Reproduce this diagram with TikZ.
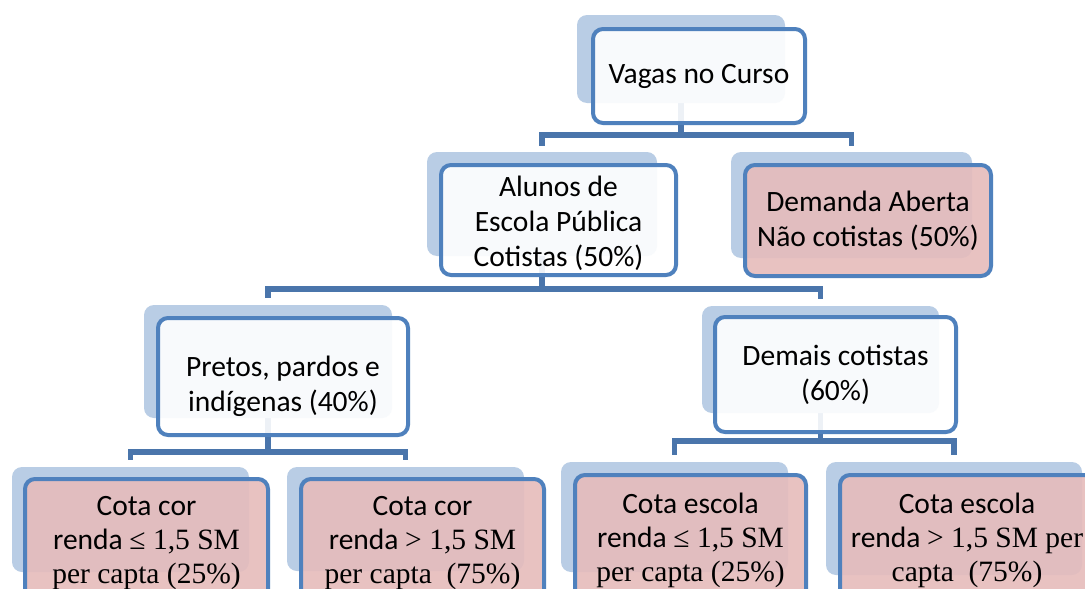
\documentclass[tikz,border=0pt]{standalone}
\usepackage{fontspec}
\setmainfont{Carlito}
\newfontfamily\tnr{Liberation Serif}
\usetikzlibrary{backgrounds}
\definecolor{shblue}{HTML}{B9CDE5}
\definecolor{bdblue}{HTML}{4F81BD}
\definecolor{cnblue}{HTML}{4A75AB}
\definecolor{pinkfill}{HTML}{E6BCBB}
\newcommand\tms[1]{{\tnr\fontsize{29.5}{34}\selectfont #1}}
\begin{document}
\begin{tikzpicture}[x=1pt,y=-1pt,
  shadowbox/.style={fill=shblue, rounded corners=10pt, inner sep=0pt},
  mainbox/.style={draw=bdblue, line width=4pt, rounded corners=10pt,
    fill opacity=0.9, text opacity=1, inner sep=0pt, align=center,
    font=\fontsize{29.5}{35}\selectfont},
  whitebox/.style={mainbox, fill=white},
  pinkbox/.style={mainbox, fill=pinkfill},
  lowbox/.style={pinkbox, font=\fontsize{29.5}{34}\selectfont},
  conn/.style={draw=cnblue, line width=5.5pt}]
\useasboundingbox (0,0) rectangle (1085,589);
\clip (0,0) rectangle (1085,589);

% back (shadow) boxes
\node[shadowbox, minimum width=208pt, minimum height=88pt] (s1) at (681,59) {};
\node[shadowbox, minimum width=230pt, minimum height=104pt] (s2) at (542,204) {};
\node[shadowbox, minimum width=241pt, minimum height=106pt] (s3) at (851.5,205) {};
\node[shadowbox, minimum width=248pt, minimum height=113pt] (s4) at (268,361.5) {};
\node[shadowbox, minimum width=237pt, minimum height=107pt] (s5) at (820.5,359.5) {};
\node[shadowbox, minimum width=237pt, minimum height=105pt] (s6) at (130.5,519.5) {};
\node[shadowbox, minimum width=237pt, minimum height=104pt] (s7) at (405.5,519) {};
\node[shadowbox, minimum width=227pt, minimum height=110pt] (s8) at (674.5,517) {};
\node[shadowbox, minimum width=256pt, minimum height=113pt] (s9) at (954,518.5) {};

% front boxes
\node[whitebox, minimum width=212pt, minimum height=94pt] (vagas) at (699,76) {Vagas no Curso};
\node[whitebox, minimum width=235pt, minimum height=110pt, text height=98pt] (alunos) at (558.5,220) {Alunos de\\Escola Pública\\Cotistas (50\%)};
\node[pinkbox, minimum width=246pt, minimum height=111pt] (demanda) at (868,220.5) {Demanda Aberta\\Não cotistas (50\%)};
\node[whitebox, minimum width=250pt, minimum height=117pt, text height=76pt] (pretos) at (283,376.5) {Pretos, pardos e\\indígenas (40\%)};
\node[whitebox, minimum width=241pt, minimum height=115pt] (demais) at (835.5,374.5) {Demais cotistas\\(60\%)};
\node[lowbox, minimum width=243pt, minimum height=128pt] (corA) at (146.5,543) {Cota cor\\renda \tms{≤ 1,5 SM}\\\tms{per capta (25\%)}};
\node[lowbox, minimum width=243pt, minimum height=128pt] (corB) at (422.5,543) {Cota cor\\renda \tms{> 1,5 SM}\\\tms{per capta \ (75\%)}};
\node[lowbox, minimum width=231pt, minimum height=130pt] (escA) at (690.5,540) {Cota escola\\renda \tms{≤ 1,5 SM}\\\tms{per capta (25\%)}};
\node[lowbox, minimum width=254pt, minimum height=130pt] (escB) at (967,540) {Cota escola\\renda \tms{> 1,5 SM per}\\\tms{capta \ (75\%)}};

% connectors
\coordinate (b1) at (0,135);
\coordinate (b2) at (0,289);
\coordinate (b3) at (0,452);
\coordinate (b4) at (0,441);
\begin{scope}[on background layer]
\fill[white] (0,0) rectangle (1085,589);
\draw[conn] (s1.south) -- (s1.south |- b1);
\draw[conn] ([yshift=6pt]s2.north) |- (s3 |- b1) -- ([yshift=6pt]s3.north);
\draw[conn] (s2.south) -- (s2.south |- b2);
\draw[conn] ([yshift=7pt]s4.north) |- (s5 |- b2) -- ([yshift=7pt]s5.north);
\draw[conn] (s4.south) -- (s4.south |- b3);
\draw[conn] ([yshift=7pt]s6.north) |- (s7 |- b3) -- ([yshift=7pt]s7.north);
\draw[conn] (s5.south) -- (s5.south |- b4);
\draw[conn] ([yshift=7pt]s8.north) |- (s9 |- b4) -- ([yshift=7pt]s9.north);
\end{scope}
\end{tikzpicture}
\end{document}
